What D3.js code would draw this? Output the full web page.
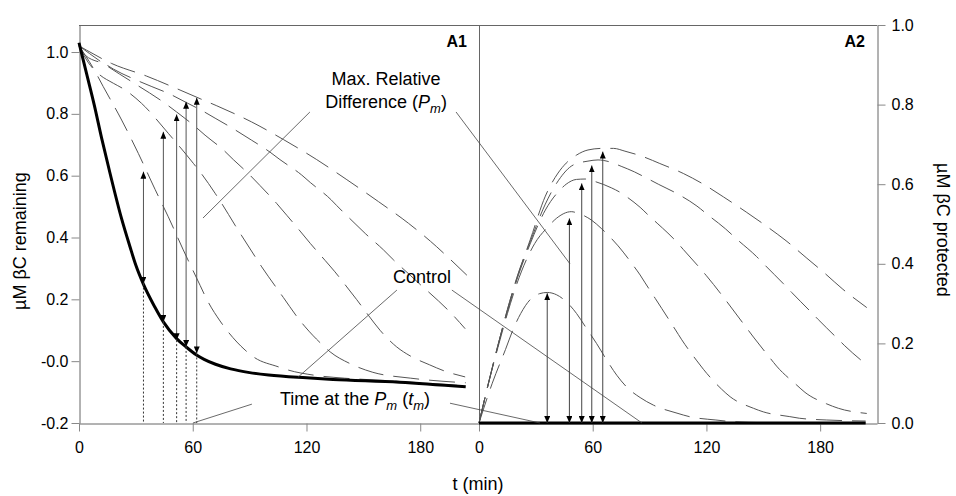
<!DOCTYPE html>
<html><head><meta charset="utf-8">
<script src="https://cdn.jsdelivr.net/npm/d3@7"></script>
<style>
body{margin:0;background:#fff}
svg{display:block}
text{font-family:"Liberation Sans",Arial,Helvetica,sans-serif;fill:#000}
</style>
</head><body>
<svg id="chart" width="956" height="496"></svg>
<script>
// ---------------- DATA ----------------
// Panel A1: µM βC remaining  [t (min), value]
const controlA1 = [[0,1.03],[4,0.93],[8,0.83],[12,0.72],[16.4,0.607],[22.5,0.46],[26.9,0.37],[30,0.31],[33.9,0.25],[40,0.175],[44.5,0.127],[51.5,0.073],[56.5,0.046],[62,0.02],[66,0.006],[72,-0.01],[80,-0.025],[90,-0.037],[100,-0.045],[120,-0.054],[134,-0.059],[169,-0.068],[204,-0.083]];
const seriesA1_a = [[0,1.02],[4,1.006],[17.2,0.963],[35.7,0.922],[53.3,0.877],[63.9,0.849],[72.7,0.826],[91,0.774],[107.8,0.717],[125.4,0.652],[141.3,0.587],[158,0.516],[173.8,0.446],[188.7,0.37],[194,0.34],[204.6,0.278]];
const seriesA1_b = [[0,1.02],[3.2,0.99],[14.6,0.958],[18.1,0.945],[32.2,0.904],[48.9,0.861],[56.5,0.837],[65.6,0.808],[71.8,0.786],[79.7,0.758],[91,0.715],[100.8,0.676],[106,0.652],[117.5,0.602],[122,0.578],[133,0.522],[136,0.503],[145.6,0.445],[151,0.413],[160.6,0.36],[166,0.327],[174.7,0.278],[180,0.248],[189.6,0.195],[196,0.157],[203.7,0.105]];
const seriesA1_c = [[0,1.02],[15.5,0.952],[27.8,0.904],[45.4,0.834],[51.5,0.806],[60.3,0.764],[66.5,0.731],[76.2,0.683],[81.4,0.652],[89.3,0.607],[95.5,0.568],[104.3,0.51],[109.6,0.472],[116.6,0.421],[122,0.381],[129.8,0.326],[135,0.289],[141.3,0.24],[146.5,0.199],[152.7,0.148],[158.8,0.1],[167.6,0.046],[174.7,0.017],[185,-0.012],[192,-0.03],[203.7,-0.051]];
const seriesA1_d = [[0,1.02],[5,0.965],[10.2,0.93],[18.1,0.899],[23.4,0.881],[33,0.834],[47.1,0.737],[60.3,0.64],[63.9,0.612],[71.8,0.543],[75.3,0.51],[82.3,0.44],[85.9,0.405],[92.9,0.338],[96.4,0.305],[104.3,0.236],[107.8,0.206],[115.7,0.138],[119.3,0.111],[128,0.055],[132.5,0.03],[143,-0.008],[155,-0.036],[175,-0.055],[204,-0.07]];
const seriesA1_e = [[0,1.02],[7.5,0.948],[12.8,0.888],[22.5,0.78],[31.3,0.672],[40.1,0.556],[47.1,0.467],[55,0.36],[63.9,0.245],[67.4,0.2],[74.4,0.13],[78,0.1],[87.6,0.036],[92,0.014],[105,-0.018],[110.5,-0.029],[123.6,-0.045],[140,-0.055],[160,-0.062],[180,-0.07],[204,-0.08]];

// Panel A2: µM βC protected  [t (min), value]
const controlA2 = [[0,0],[204,0]];
const seriesA2_a = [[0,0],[5,0.1],[10,0.195],[15,0.285],[20,0.365],[27,0.46],[35,0.57],[41.7,0.628],[46,0.653],[51.4,0.673],[57.5,0.686],[65,0.69],[71,0.69],[77,0.683],[86.7,0.669],[95.4,0.652],[107.8,0.627],[118.4,0.6],[129,0.568],[141,0.53],[153,0.49],[162,0.458],[173,0.414],[182,0.378],[192,0.336],[204.6,0.29]];
const seriesA2_b = [[0,0],[5,0.1],[10,0.195],[15,0.285],[20,0.365],[27,0.455],[35,0.55],[42,0.61],[49.6,0.648],[57.5,0.658],[62.8,0.661],[69,0.656],[75,0.645],[82,0.631],[87,0.619],[94.6,0.6],[105,0.575],[115,0.545],[121,0.522],[130,0.488],[136,0.462],[146.5,0.418],[151,0.396],[160.6,0.35],[165,0.328],[174.7,0.281],[179,0.26],[189.6,0.21],[193,0.194],[204.6,0.146]];
const seriesA2_c = [[0,0],[5,0.1],[10,0.195],[15,0.28],[20,0.36],[27,0.45],[35,0.535],[42.6,0.585],[46,0.6],[51.4,0.612],[56,0.613],[61,0.607],[69.8,0.591],[75,0.578],[78.6,0.566],[85,0.542],[89.4,0.522],[94,0.502],[99.7,0.477],[104.3,0.455],[107.8,0.436],[117.5,0.384],[120,0.37],[129,0.316],[132.5,0.294],[141,0.24],[144.8,0.216],[153.6,0.163],[157,0.143],[167.7,0.095],[172,0.077],[183.5,0.048],[189.6,0.037],[204.6,0.024]];
const seriesA2_d = [[0,0],[5,0.1],[10,0.19],[15,0.275],[20,0.35],[29.4,0.451],[36.4,0.493],[40.8,0.514],[48.7,0.531],[52.2,0.527],[59.3,0.51],[64.5,0.489],[69.8,0.464],[73.4,0.445],[82,0.392],[85,0.372],[87.4,0.354],[93,0.313],[96.4,0.288],[103.4,0.236],[107,0.209],[115,0.156],[118.4,0.135],[128,0.085],[132.5,0.066],[144.8,0.037],[150,0.028],[164,0.016],[169,0.012],[183.5,0.0075],[204,0.005]];
const seriesA2_e = [[0,0],[7,0.1],[14,0.185],[18,0.235],[22,0.275],[27,0.31],[32,0.325],[36,0.328],[41,0.322],[46,0.305],[51.5,0.275],[56,0.243],[62,0.2],[67.4,0.158],[72.7,0.12],[78,0.09],[85,0.064],[92,0.045],[105,0.024],[111,0.016],[125,0.0075],[135,0.003],[150,0.001],[204,0]];

// Max relative difference arrows
const arrowTimesA1   = [34, 44.5, 51.5, 56.5, 62.1];
const arrowTopsA1    = [0.613, 0.742, 0.798, 0.839, 0.852];
const arrowBottomsA1 = [0.251, 0.127, 0.068, 0.046, 0.025];
const arrowTimesA2   = [36, 47.7, 54.2, 59.5, 65.3];
const arrowTopsA2    = [0.326, 0.514, 0.602, 0.647, 0.682];

// Ticks
const xTicks = [0, 60, 120, 180];
const xTickLabels = ["0", "60", "120", "180"];
const yTicksA1 = [-0.2, 0, 0.2, 0.4, 0.6, 0.8, 1.0];
const yTickLabelsA1 = ["-0.2", "-0.0", "0.2", "0.4", "0.6", "0.8", "1.0"];
const yTicksA2 = [0, 0.2, 0.4, 0.6, 0.8, 1.0];
const yTickLabelsA2 = ["0.0", "0.2", "0.4", "0.6", "0.8", "1.0"];

// ---------------- DRAW ----------------
const svg = d3.select("#chart");
const xL = d3.scaleLinear().domain([0, 211]).range([79, 479]);
const xR = d3.scaleLinear().domain([0, 210]).range([479, 877]);
const yL = d3.scaleLinear().domain([-0.2, 1.0874]).range([423, 25]);
const yR = d3.scaleLinear().domain([0, 1]).range([423, 25]);

const defs = svg.append("defs");
defs.append("marker").attr("id","tri").attr("viewBox","0 -3 7 6")
  .attr("refX",7).attr("refY",0).attr("markerWidth",7).attr("markerHeight",6)
  .attr("markerUnits","userSpaceOnUse").attr("orient","auto-start-reverse")
  .append("path").attr("d","M0,-3L7,0L0,3Z").attr("fill","#000");

const dash = "26,10";
const mkLine = (xs, ys) => d3.line().x(d => xs(d[0])).y(d => ys(d[1])).curve(d3.curveMonotoneX);

// frame
const frame = svg.append("g").attr("stroke","#666").attr("stroke-width",1).attr("fill","none");
frame.append("line").attr("x1",79).attr("x2",877).attr("y1",25.5).attr("y2",25.5);
frame.append("line").attr("x1",479.5).attr("x2",479.5).attr("y1",25).attr("y2",423);

// axes
function styleAxis(g){
  g.selectAll(".domain").attr("stroke","#666");
  g.selectAll(".tick line").attr("stroke","#888");
  g.selectAll(".tick text").attr("font-size",16).attr("fill","#000")
    .attr("font-family","Liberation Sans, Arial, sans-serif");
}
svg.append("g").attr("transform","translate(79.5,0)")
  .call(d3.axisLeft(yL).tickValues(yTicksA1).tickFormat((d,i)=>yTickLabelsA1[i]).tickSize(8).tickPadding(3).tickSizeOuter(0))
  .call(styleAxis);
svg.append("g").attr("transform","translate(0,423.5)")
  .call(d3.axisBottom(xL).tickValues(xTicks).tickFormat((d,i)=>xTickLabels[i]).tickSize(8).tickPadding(10).tickSizeOuter(0))
  .call(styleAxis);
svg.append("g").attr("transform","translate(0,423.5)")
  .call(d3.axisBottom(xR).tickValues(xTicks).tickFormat((d,i)=>xTickLabels[i]).tickSize(8).tickPadding(10).tickSizeOuter(0))
  .call(styleAxis);
svg.append("g").attr("transform","translate(877.5,0)")
  .call(d3.axisRight(yR).tickValues(yTicksA2).tickFormat((d,i)=>yTickLabelsA2[i]).tickSize(8).tickPadding(6).tickSizeOuter(0))
  .call(styleAxis);

// dashed series
const lineL = mkLine(xL, yL), lineR = mkLine(xR, yR);
[seriesA1_a, seriesA1_b, seriesA1_c, seriesA1_d, seriesA1_e].forEach(s => {
  svg.append("path").attr("d", lineL(s)).attr("fill","none").attr("stroke","#555")
    .attr("stroke-width",1).attr("stroke-dasharray",dash);
});
[seriesA2_a, seriesA2_b, seriesA2_c, seriesA2_d, seriesA2_e].forEach(s => {
  svg.append("path").attr("d", lineR(s)).attr("fill","none").attr("stroke","#555")
    .attr("stroke-width",1).attr("stroke-dasharray",dash);
});
// controls
svg.append("path").attr("d", lineL(controlA1)).attr("fill","none").attr("stroke","#000").attr("stroke-width",3);
svg.append("path").attr("d", lineR(controlA2)).attr("fill","none").attr("stroke","#000").attr("stroke-width",3);

// dotted drop lines (A1)
arrowTimesA1.forEach((t,i) => {
  svg.append("line").attr("x1",xL(t)).attr("x2",xL(t)).attr("y1",yL(arrowBottomsA1[i])).attr("y2",yL(-0.2))
    .attr("stroke","#333").attr("stroke-width",1).attr("stroke-dasharray","2,2");
});
// arrows
arrowTimesA1.forEach((t,i) => {
  svg.append("line").attr("x1",xL(t)).attr("x2",xL(t)).attr("y1",yL(arrowBottomsA1[i])).attr("y2",yL(arrowTopsA1[i]))
    .attr("stroke","#555").attr("stroke-width",1)
    .attr("marker-start","url(#tri)").attr("marker-end","url(#tri)");
});
arrowTimesA2.forEach((t,i) => {
  svg.append("line").attr("x1",xR(t)).attr("x2",xR(t)).attr("y1",yR(0)).attr("y2",yR(arrowTopsA2[i]))
    .attr("stroke","#444").attr("stroke-width",1)
    .attr("marker-start","url(#tri)").attr("marker-end","url(#tri)");
});

// leader lines
const leaders = [
  [xL(121.8), yL(0.806), xL(65.4), yL(0.463)],
  [xL(198.9), yL(0.806), xR(48), yR(0.40)],
  [xL(167.7), yL(0.23), xL(115.5), yL(-0.052)],
  [xL(196.7), yL(0.23), xR(86), yR(0)],
  [xL(91.2), yL(-0.139), xL(60.1), yL(-0.2)],
  [xL(195.7), yL(-0.136), xR(32.2), yR(0)]
];
leaders.forEach(l => svg.append("line").attr("x1",l[0]).attr("y1",l[1]).attr("x2",l[2]).attr("y2",l[3])
  .attr("stroke","#444").attr("stroke-width",0.8));

// annotation text
svg.append("text").attr("x",xL(162)).attr("y",yL(0.893)).attr("text-anchor","middle").attr("font-size",18).text("Max. Relative");
const t2 = svg.append("text").attr("x",xL(162)).attr("y",yL(0.819)).attr("text-anchor","middle").attr("font-size",18);
t2.append("tspan").text("Difference (");
t2.append("tspan").attr("font-style","italic").text("P");
t2.append("tspan").attr("font-style","italic").attr("font-size",13).attr("dy",5).text("m");
t2.append("tspan").attr("dy",-5).text(")");
svg.append("text").attr("x",xL(180.9)).attr("y",yL(0.253)).attr("text-anchor","middle").attr("font-size",18).text("Control");
const t3 = svg.append("text").attr("x",xL(145.6)).attr("y",yL(-0.142)).attr("text-anchor","middle").attr("font-size",18);
t3.append("tspan").text("Time at the ");
t3.append("tspan").attr("font-style","italic").text("P");
t3.append("tspan").attr("font-style","italic").attr("font-size",13).attr("dy",5).text("m");
t3.append("tspan").attr("dy",-5).text(" (");
t3.append("tspan").attr("font-style","italic").text("t");
t3.append("tspan").attr("font-style","italic").attr("font-size",13).attr("dy",5).text("m");
t3.append("tspan").attr("dy",-5).text(")");

// panel labels
svg.append("text").attr("x",467).attr("y",47).attr("text-anchor","end").attr("font-size",16).attr("font-weight","bold").text("A1");
svg.append("text").attr("x",865).attr("y",47).attr("text-anchor","end").attr("font-size",16).attr("font-weight","bold").text("A2");

// axis titles
svg.append("text").attr("transform","translate(26,241) rotate(-90)").attr("text-anchor","middle").attr("font-size",18).text("µM βC remaining");
svg.append("text").attr("transform","translate(937,230) rotate(90)").attr("text-anchor","middle").attr("font-size",18).text("µM βC protected");
svg.append("text").attr("x",478).attr("y",490).attr("text-anchor","middle").attr("font-size",18).text("t (min)");
</script>
</body></html>
